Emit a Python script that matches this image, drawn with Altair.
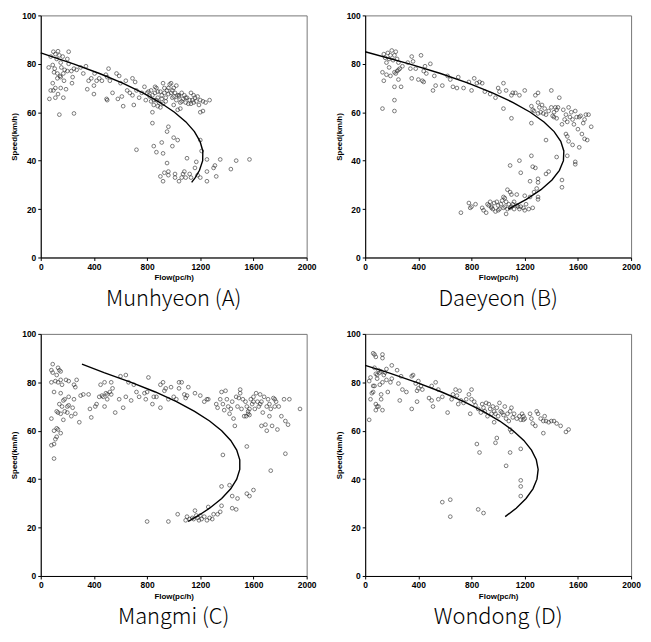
import altair as alt
import pandas as pd

FLOW_TICKS = [0, 400, 800, 1200, 1600, 2000]
SPEED_TICKS = [0, 20, 40, 60, 80, 100]
CAPTIONS = ["Munhyeon (A)", "Daeyeon (B)", "Mangmi (C)", "Wondong (D)"]

# ---- observed points (flow pc/h, speed km/h) ----
A_POINTS = [
    (95, 85), (130, 85.2), (210, 85), (75, 83), (110, 84), (140, 83.5), (165, 83), (120, 82), (200, 82),
    (150, 80.5), (210, 80), (90, 79.5), (60, 78.5), (105, 78), (155, 78.5), (180, 77.5), (230, 77), (250, 78),
    (270, 77.5), (300, 78.5), (100, 76.5), (125, 76), (145, 75), (170, 76), (200, 77), (240, 74.5), (125, 74),
    (150, 74.5), (90, 72), (175, 73), (235, 72), (110, 70), (150, 70), (190, 69.5), (75, 69), (95, 69),
    (130, 67.5), (110, 66), (170, 66), (65, 65.5), (140, 59), (250, 59.5),
    (340, 79), (320, 76), (360, 73), (380, 74), (350, 69.5), (400, 67.5), (400, 71), (420, 73), (405, 76),
    (440, 74), (460, 73), (490, 75.5), (510, 78), (500, 74.5), (520, 73), (495, 65.5), (500, 65), (540, 68),
    (570, 76), (590, 75), (600, 72), (580, 65.5), (610, 66.5), (620, 62.5), (640, 73), (650, 69), (670, 68),
    (690, 74), (690, 67), (710, 72.5), (700, 63), (720, 69), (740, 66), (760, 68), (780, 70.5), (790, 65),
    (720, 44.5),
    (800, 68), (820, 66.5), (830, 69), (840, 67), (850, 65), (860, 68), (870, 70), (880, 66), (890, 64),
    (900, 68.5), (910, 67), (920, 72), (930, 70), (940, 66), (950, 69), (960, 67.5), (970, 71.5), (980, 68),
    (990, 66), (1000, 70), (1010, 68), (1020, 65), (1030, 67), (1040, 66.5), (1050, 64), (1060, 68),
    (1070, 65.5), (1080, 67), (1090, 64), (1100, 66), (1110, 63.5), (1120, 65), (1130, 68), (1140, 65),
    (1150, 64), (1160, 66), (1170, 64.5), (1180, 66.5), (1190, 63), (1200, 65), (1220, 64.5), (1240, 64),
    (1270, 65), (860, 70.5), (880, 62.5), (900, 62), (920, 63.5), (940, 64.5), (960, 70), (980, 72),
    (1000, 63), (1020, 71), (1040, 67), (880, 68.5), (870, 65), (850, 63), (830, 64.5), (810, 68.5),
    (1030, 61), (1050, 61.5), (1200, 60), (1220, 60.5), (1000, 66.5), (990, 69), (930, 68), (910, 65.5),
    (1060, 64.5), (1090, 66), (1130, 63.5), (1150, 67),
    (840, 60), (840, 55.5), (960, 54), (950, 52), (1000, 49.5), (1030, 48.5), (910, 47.5), (850, 46),
    (990, 46), (870, 43.5), (920, 43), (1200, 48.5), (1210, 44), (950, 39), (1100, 41), (1170, 39.5),
    (1250, 40.5), (1350, 40.5), (1470, 40), (1570, 40.5), (1430, 36.5), (1300, 37), (1310, 38), (1250, 35.5),
    (1160, 37), (1320, 33.5), (900, 33.5), (920, 31.5), (930, 35), (960, 35.5), (960, 34), (1010, 34.5),
    (1010, 33), (1040, 31.5), (1060, 33), (1070, 34.5), (1080, 35.5), (1090, 33), (1120, 34.5), (1130, 33),
    (1180, 34), (1200, 33), (1250, 31.5),
]

B_POINTS = [
    (200, 85.5), (230, 85), (170, 84.5), (140, 84), (190, 83.5), (220, 83.5), (150, 82.5), (180, 82), (210, 81.5),
    (240, 82), (160, 80.5), (250, 80.5), (180, 78.5), (280, 79), (260, 78), (130, 76.5), (160, 75.5), (190, 75),
    (230, 76), (240, 77), (250, 77.5), (220, 76.5), (140, 73), (250, 73.5), (220, 70.5), (270, 70.5), (220, 65),
    (220, 60.5), (130, 61.5),
    (320, 80.5), (350, 83), (360, 81), (340, 78), (380, 78), (350, 74), (400, 73.5), (430, 73), (440, 72.5),
    (420, 83.5), (440, 77), (450, 79), (460, 76), (490, 80), (520, 75), (510, 69), (530, 71), (580, 71),
    (620, 75), (640, 73.5), (660, 70.5), (690, 70), (700, 74.5), (740, 70), (780, 72.5), (800, 69), (820, 74),
    (840, 72), (860, 72.5), (880, 72), (900, 68.5), (940, 67.5), (980, 66), (1000, 70), (1010, 68.5),
    (1040, 72), (1040, 61.5), (1060, 69), (1100, 67), (1110, 68), (1130, 68), (1160, 67), (1200, 69), (1100, 57.5),
    (1250, 62.5), (1260, 61), (1270, 60.5), (1280, 67), (1300, 68), (1300, 64), (1310, 62), (1320, 60),
    (1330, 63), (1340, 59.5), (1350, 61.5), (1360, 59), (1380, 60.5), (1400, 69), (1400, 62), (1410, 58.5),
    (1420, 60), (1430, 62), (1440, 57.5), (1450, 62), (1460, 66), (1480, 55), (1490, 61), (1500, 57),
    (1510, 59), (1520, 56), (1530, 62), (1540, 58), (1550, 60), (1560, 57), (1570, 55), (1580, 60.5),
    (1590, 58), (1600, 53), (1610, 58), (1620, 58.5), (1630, 51), (1640, 55.5), (1650, 57), (1660, 59),
    (1670, 48.5), (1680, 59), (1700, 54), (1650, 49), (1610, 45.5), (1560, 46.5), (1520, 50), (1510, 51),
    (1530, 48), (1520, 42), (1580, 39.5), (1580, 38.5), (1250, 55.5), (1300, 59.5), (1420, 58), (1440, 61),
    (1360, 48.5), (1440, 41.5), (1480, 32), (1480, 29), (1380, 35.5), (1360, 34.5), (1250, 42), (1260, 37.5),
    (1280, 37), (1300, 32.5), (1300, 31), (1240, 31.5), (1160, 40), (1090, 38), (1170, 35), (1270, 27),
    (1290, 28.5), (1300, 25), (1300, 24), (1240, 25), (1200, 25.5), (1140, 26), (1070, 28), (1090, 27),
    (1100, 26), (1050, 24.5),
    (720, 18.5), (780, 22.5), (800, 21), (790, 20.5), (830, 22), (880, 20.5), (890, 19.5), (910, 18.5),
    (920, 22), (940, 23), (950, 21), (960, 20), (970, 22.5), (980, 19), (990, 23), (1000, 21.5), (1010, 20),
    (1020, 22), (1030, 23.5), (1040, 20.5), (1050, 21), (1060, 18), (1070, 20), (1080, 22), (1090, 20.5),
    (1100, 21), (1110, 22), (1120, 20), (1140, 21.5), (1160, 20), (1170, 21), (1190, 20.5), (1200, 19.5),
    (1210, 22), (1230, 20), (1260, 20.5), (1000, 19.5), (950, 20.5), (930, 21.5), (1040, 25), (1060, 23),
    (1120, 23), (1150, 21),
]

C_POINTS = [
    (90, 87.5), (130, 86), (80, 85), (140, 85), (90, 84), (150, 84.5), (120, 83), (110, 80.5), (150, 81),
    (190, 81), (270, 81), (80, 80), (210, 80.5), (130, 80), (160, 79), (250, 79), (100, 76), (260, 78),
    (150, 75.5), (180, 73), (210, 74), (170, 72.5), (250, 73), (200, 70), (210, 70.5), (140, 71), (160, 70),
    (240, 69.5), (120, 68), (180, 68), (150, 67), (200, 67.5), (230, 66), (260, 67), (130, 67.5), (170, 64.5),
    (290, 63.5), (80, 65), (120, 61), (130, 60.5), (100, 60), (150, 59), (110, 56.5), (80, 54), (100, 54.5),
    (100, 48.5), (120, 57.5),
    (300, 74.5), (320, 75), (360, 75), (370, 69), (380, 65.5), (410, 70), (420, 71), (440, 74), (450, 79),
    (460, 74.5), (470, 74), (480, 80), (480, 70), (490, 75.5), (500, 75), (500, 73), (520, 76), (530, 80),
    (530, 75), (540, 77.5), (560, 67.5), (590, 73), (600, 82.5), (620, 69.5), (640, 83), (640, 74), (660, 80),
    (680, 72.5), (700, 79), (720, 76), (740, 74), (780, 75.5), (790, 73), (800, 76), (810, 82), (840, 71),
    (850, 74), (870, 74), (900, 69.5), (900, 79), (920, 80), (930, 76.5), (940, 77.5), (960, 73), (980, 78),
    (1000, 74), (1020, 73), (1040, 77.5), (1040, 80), (1060, 80), (1080, 75), (1090, 73.5), (1100, 74.5),
    (1110, 78), (1160, 75.5), (1200, 74.5), (1230, 72), (1250, 73), (1260, 73),
    (1320, 71), (1330, 69.5), (1350, 73), (1360, 76), (1370, 71), (1380, 68.5), (1390, 76.5), (1400, 73),
    (1410, 70), (1420, 67), (1430, 69), (1440, 72), (1450, 65), (1460, 62), (1470, 74), (1480, 70),
    (1490, 73.5), (1500, 77), (1500, 75.5), (1510, 69), (1520, 73), (1530, 66), (1540, 72), (1550, 70),
    (1560, 67), (1570, 69), (1580, 73), (1590, 71), (1600, 74), (1610, 69), (1620, 75.5), (1630, 72),
    (1640, 70), (1650, 75), (1660, 72), (1670, 67.5), (1680, 74), (1690, 62.5), (1700, 70), (1710, 73),
    (1720, 66), (1730, 69), (1740, 62), (1750, 73.5), (1760, 70), (1770, 72), (1780, 60.5), (1790, 70),
    (1810, 66), (1830, 73), (1840, 64), (1860, 62.5), (1870, 73), (1950, 69), (1700, 60), (1660, 62),
    (1560, 68), (1570, 66.5), (1545, 66), (1600, 72), (1650, 71), (1720, 71), (1760, 73),
    (1370, 50), (1550, 53.5), (1840, 50.5), (1730, 43.5), (1360, 37), (1420, 37.5), (1600, 35.5), (1550, 34),
    (1570, 33), (1440, 33), (1480, 32), (1360, 29), (1440, 28), (1470, 27.5), (1260, 28.5), (1350, 26.5),
    (1300, 25.5), (1330, 25.5), (1230, 24.5), (1270, 24), (1290, 23.5), (1250, 23), (1160, 27), (1170, 25),
    (1180, 24), (1190, 23), (1140, 24), (1120, 23.5), (1100, 24.5), (1090, 23), (1210, 23.5), (1030, 25.5),
    (960, 22.5), (800, 22.5), (1150, 23.5), (1200, 25),
]

D_POINTS = [
    (60, 92), (70, 91.5), (130, 91.5), (80, 90.5), (130, 90), (200, 87), (70, 86), (160, 85.5), (100, 85),
    (120, 84.5), (150, 84), (240, 85), (80, 83.5), (90, 83), (110, 84), (140, 83), (40, 82), (90, 81.5),
    (160, 81), (200, 81.5), (270, 82.5), (30, 80.5), (130, 80), (190, 80), (250, 79.5), (110, 79), (60, 78.5),
    (70, 78.5), (350, 82.5), (360, 83), (380, 79.5), (400, 80.5), (390, 76.5), (280, 77), (310, 76), (420, 78.5),
    (430, 77), (400, 77.5), (170, 76), (120, 75), (50, 75.5), (60, 76), (40, 73), (120, 73), (260, 72.5),
    (390, 72), (80, 71), (90, 70), (100, 70), (80, 68.5), (130, 68.5), (30, 64.5), (350, 69), (480, 73.5),
    (500, 72.5), (500, 78.5), (510, 70), (530, 80), (550, 77), (550, 73), (580, 74), (620, 67.5), (650, 73),
    (660, 75), (680, 77), (690, 74.5), (700, 71), (710, 76.5), (720, 72.5), (740, 71.5), (760, 73), (780, 75),
    (790, 67), (800, 77), (800, 73), (820, 72), (830, 70.5), (850, 69), (870, 67.5), (880, 71), (890, 69.5),
    (900, 68), (910, 71.5), (920, 66), (930, 71), (940, 69), (950, 67), (960, 70), (970, 68), (980, 67),
    (990, 69.5), (1000, 66), (1010, 71.5), (1020, 68), (1030, 67.5), (1040, 66.5), (1050, 70), (1060, 65),
    (1070, 67), (1080, 64), (1090, 68), (1100, 69.5), (1110, 65.5), (1120, 67), (1140, 65), (1160, 66),
    (1170, 64.5), (1180, 67), (1190, 66), (1200, 65), (1240, 67), (1250, 65), (1260, 63), (1280, 62),
    (1290, 68), (1300, 67), (1320, 65), (1340, 64), (1350, 66), (1360, 64), (1380, 63.5), (1400, 64),
    (1420, 64), (1440, 63), (1470, 62), (1510, 59.5), (1530, 60.5), (1340, 59), (970, 63.5), (1090, 60.5),
    (1100, 59.5), (1190, 64.5),
    (840, 54.5), (860, 51), (980, 55), (990, 57), (1090, 51), (1060, 45.5), (1170, 52.5), (1170, 39.5),
    (1170, 37), (1170, 33), (580, 30.5), (640, 31.5), (640, 24.5), (850, 27.5), (890, 26),
]

# ---- fitted speed-flow curves ----
A_CURVE_SPEED = [84.5, 80, 76, 72, 68, 64, 60, 56, 52, 48, 44, 40, 36, 33, 31]
A_CURVE_FLOW = [0, 246, 442, 616, 768, 898, 1006, 1092, 1156, 1198, 1219, 1218, 1194, 1162, 1135]

B_CURVE_SPEED = [85, 80, 76, 72, 68, 64, 60, 56, 52, 48, 44, 40, 36, 32, 28, 24, 20]
B_CURVE_FLOW = [0, 331, 567, 775, 957, 1113, 1242, 1345, 1421, 1471, 1494, 1491, 1461, 1405, 1322, 1212, 1077]

C_CURVE_SPEED = [87.5, 84, 80, 76, 72, 68, 64, 60, 56, 52, 48, 44, 40, 36, 32, 28, 25, 22.5]
C_CURVE_FLOW = [310, 476, 680, 862, 1021, 1157, 1270, 1361, 1429, 1474, 1497, 1497, 1474, 1429, 1361, 1270, 1187, 1108]

D_CURVE_SPEED = [87, 84, 80, 76, 72, 68, 64, 60, 56, 52, 48, 44, 40, 36, 32, 28, 24.5]
D_CURVE_FLOW = [0, 173, 385, 575, 742, 888, 1012, 1113, 1193, 1251, 1287, 1301, 1292, 1262, 1210, 1136, 1053]

PW, PH = 268, 244


def panel(points, curve_speed, curve_flow, caption):
    pts = pd.DataFrame(points, columns=["flow", "speed"])
    cur = pd.DataFrame({"flow": curve_flow, "speed": curve_speed, "i": list(range(len(curve_flow)))})
    x = alt.X("flow:Q", scale=alt.Scale(domain=[0, 2000], nice=False),
              axis=alt.Axis(values=FLOW_TICKS, title="Flow(pc/h)", labelFlush=False, format="d"))
    y = alt.Y("speed:Q", scale=alt.Scale(domain=[0, 100], nice=False),
              axis=alt.Axis(values=SPEED_TICKS, title="Speed(km/h)", format="d"))
    s = alt.Chart(pts).mark_point(shape="circle", filled=False, size=14, color="#222222",
                                  strokeWidth=0.85).encode(x=x, y=y)
    l = alt.Chart(cur).mark_line(color="black", strokeWidth=1.4).encode(x=x, y=y, order="i:Q")
    return alt.layer(s, l).properties(
        width=PW, height=PH,
        title=alt.TitleParams(caption, orient="bottom", fontSize=22, font="Noto Sans CJK KR",
                              fontWeight=300, color="black", offset=7, anchor="middle"),
    )


pa = panel(A_POINTS, A_CURVE_SPEED, A_CURVE_FLOW, CAPTIONS[0])
pb = panel(B_POINTS, B_CURVE_SPEED, B_CURVE_FLOW, CAPTIONS[1])
pc = panel(C_POINTS, C_CURVE_SPEED, C_CURVE_FLOW, CAPTIONS[2])
pd_ = panel(D_POINTS, D_CURVE_SPEED, D_CURVE_FLOW, CAPTIONS[3])

chart = alt.vconcat(
    alt.hconcat(pa, pb, spacing=18),
    alt.hconcat(pc, pd_, spacing=18),
    spacing=19,
).configure_view(stroke="#777777", strokeWidth=1).configure_axis(
    grid=False,
    labelFont="Liberation Sans", labelFontWeight="bold", labelFontSize=8.5, labelColor="black",
    titleFont="Liberation Sans", titleFontWeight="bold", titleFontSize=8, titleColor="black",
    domainColor="black", tickColor="black", tickSize=3, labelPadding=2,
).configure_axisX(titlePadding=3).configure_axisY(titlePadding=3).properties(
    padding={"left": 2, "top": 0, "right": 2, "bottom": 0}, background="white"
)

chart.save("out.html", embed_options={"renderer": "svg", "actions": False})
